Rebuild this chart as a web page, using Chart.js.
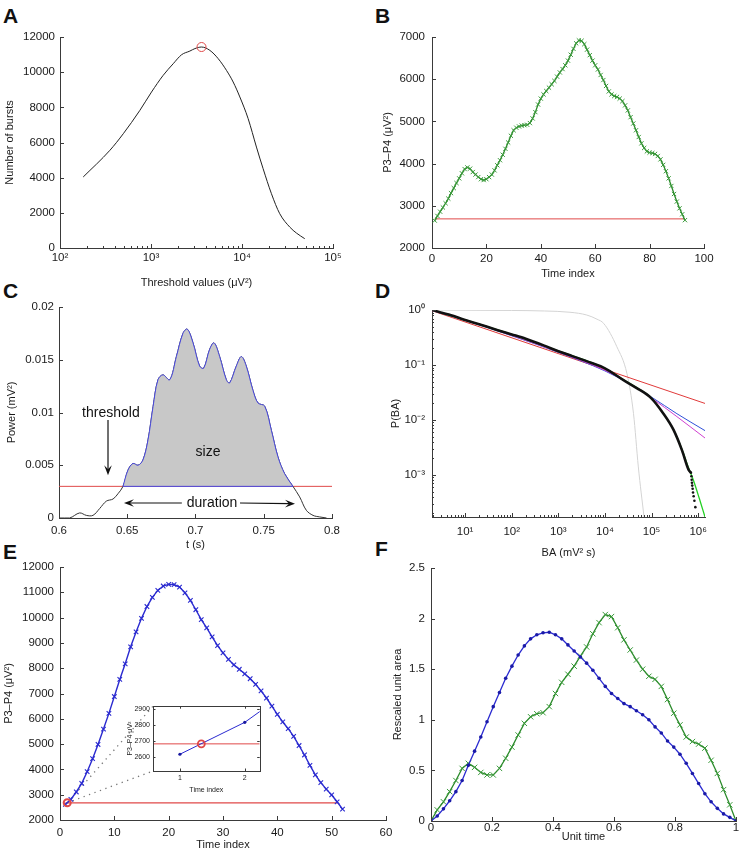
<!DOCTYPE html>
<html><head><meta charset="utf-8">
<script src="https://cdn.jsdelivr.net/npm/chart.js@4.4.1/dist/chart.umd.min.js"></script>
<style>
html,body{margin:0;padding:0;background:#fff;width:741px;height:853px;overflow:hidden;position:relative;}
canvas{position:absolute;}
.lbl{position:absolute;font:bold 21px 'Liberation Sans',Arial,Helvetica,sans-serif;line-height:21px;color:#111;}
</style></head><body>
<div class="lbl" style="left:3px;top:5px">A</div>
<div class="lbl" style="left:375px;top:5px">B</div>
<div class="lbl" style="left:3px;top:280px">C</div>
<div class="lbl" style="left:375px;top:280px">D</div>
<div class="lbl" style="left:3px;top:541px">E</div>
<div class="lbl" style="left:375px;top:538px">F</div>
<script>
// ---------------- DATA ----------------
// A: number of bursts vs threshold
const aThreshold = [180, 354, 496, 755, 1013, 1361, 1754, 2166, 2673, 3035, 3591, 4433, 5472, 6756, 7998, 9468, 11675, 14414, 17061, 21054, 25990, 33482, 39641, 48906];
const aBursts = [4040, 5560, 6500, 7830, 8870, 9820, 10480, 10990, 11200, 11340, 11430, 11240, 10770, 10100, 9440, 8590, 7360, 5740, 4510, 3090, 1950, 1190, 850, 530];
const aPeakThreshold = [3591];
const aPeakBursts = [11430];
const aThresholdTicks = [1e2, 1e3, 1e4, 1e5];
const aBurstTicks = [0, 2000, 4000, 6000, 8000, 10000, 12000];

// B: P3-P4 power of one long burst
const bPower = [2650,2760,2860,2960,3060,3170,3300,3420,3540,3650,3770,3870,3910,3880,3800,3740,3680,3630,3610,3630,3680,3740,3840,3960,4080,4210,4350,4500,4660,4790,4850,4880,4900,4910,4920,4960,5070,5220,5400,5540,5640,5720,5800,5880,5960,6060,6160,6240,6330,6440,6580,6720,6850,6920,6910,6830,6700,6570,6440,6330,6230,6100,5980,5840,5710,5640,5600,5580,5540,5480,5380,5260,5100,4950,4790,4630,4480,4370,4290,4260,4250,4230,4180,4100,3970,3820,3650,3470,3280,3100,2940,2800,2660];
const bIndex = bPower.map((_, i) => i + 1);
const bThreshold = 2690;
const bIndexTicks = [0, 20, 40, 60, 80, 100];
const bPowerTicks = [2000, 3000, 4000, 5000, 6000, 7000];

// C: power trace with one burst
const cTime = [0.6, 0.6078, 0.6151, 0.62, 0.6249, 0.6298, 0.6347, 0.6396, 0.6432, 0.6469, 0.6505, 0.6542, 0.6579, 0.6615, 0.6652, 0.6689, 0.6725, 0.6762, 0.6811, 0.686, 0.6908, 0.694, 0.6982, 0.703, 0.706, 0.7104, 0.7136, 0.7177, 0.7226, 0.725, 0.7299, 0.7336, 0.7372, 0.7421, 0.7458, 0.7507, 0.7556, 0.7604, 0.7653, 0.7714, 0.7763, 0.7812, 0.7861, 0.791, 0.796];
const cPower = [0, 0, 0.00048, 0.00025, 0.00025, 0.0009, 0.0016, 0.0018, 0.0023, 0.0030, 0.00453, 0.00517, 0.0050, 0.0055, 0.0074, 0.01055, 0.0131, 0.01357, 0.0131, 0.0153, 0.0175, 0.0179, 0.0166, 0.0144, 0.0142, 0.0160, 0.0166, 0.0153, 0.0131, 0.0128, 0.0144, 0.0153, 0.0144, 0.0121, 0.0109, 0.0106, 0.0083, 0.0058, 0.0042, 0.0030, 0.0020, 0.00073, 0.00025, 0.0001, 0];
const cThreshold = 0.003;
const cOnset = 0.6469, cOffset = 0.7714;
const cTimeTicks = [0.6, 0.65, 0.7, 0.75, 0.8];
const cPowerTicks = [0, 0.005, 0.01, 0.015, 0.02];

// D: burst-area distribution (CCDF) and fits
const dBlackBA = [2, 3, 5, 10, 20, 50, 100, 200, 500, 1000, 2000, 5000, 10000, 25000, 48000, 98000, 180000, 296000, 450000, 620000, 700000];
const dBlackP = [1.0, 0.9, 0.8, 0.66, 0.55, 0.43, 0.36, 0.30, 0.225, 0.178, 0.145, 0.11, 0.087, 0.053, 0.038, 0.025, 0.013, 0.0066, 0.0028, 0.00125, 0.0011];
const dTailBA = [700000, 715000, 725000, 735000, 745000, 760000, 775000, 800000, 830000, 870000];
const dTailP = [0.0011, 0.00095, 0.00082, 0.00072, 0.00064, 0.00056, 0.00048, 0.00041, 0.00034, 0.00026];
const dGreenBA = [1.95, 10, 100, 1000, 10000, 25000, 50000, 100000, 180000, 300000, 450000, 620000, 790000, 1050000, 1400000];
const dGreenP = [1.0, 0.66, 0.36, 0.18, 0.087, 0.054, 0.038, 0.025, 0.013, 0.0065, 0.0029, 0.00135, 0.0008, 0.00038, 0.000172];
const dRedBA = [1.95, 1400000];
const dRedP = [0.97, 0.020];
const dBlueBA = [1.95, 10, 100, 1000, 10000, 30000, 100000, 350000, 1400000];
const dBlueP = [0.98, 0.65, 0.34, 0.17, 0.078, 0.048, 0.026, 0.013, 0.0064];
const dMagentaBA = [1.95, 10, 100, 1000, 10000, 30000, 100000, 350000, 1400000];
const dMagentaP = [0.98, 0.66, 0.345, 0.172, 0.08, 0.049, 0.025, 0.0115, 0.0047];
const dGrayBA = [1.95, 10, 100, 500, 1780, 4080, 6760, 9400, 18000, 29600, 41000, 52000, 69000];
const dGrayP = [1.0, 0.99, 0.98, 0.96, 0.91, 0.81, 0.68, 0.57, 0.215, 0.07, 0.013, 0.0014, 0.00017];
const dBATicks = [10, 100, 1000, 10000, 100000, 1000000];
const dPTicks = [0.001, 0.01, 0.1, 1];

// E: P3-P4 power of one burst
const ePower = [2615, 2815, 3107, 3448, 3909, 4425, 4985, 5593, 6215, 6881, 7555, 8173, 8845, 9432, 9971, 10438, 10798, 11075, 11248, 11313, 11307, 11204, 10980, 10678, 10311, 9923, 9593, 9242, 8894, 8607, 8349, 8132, 7958, 7778, 7584, 7362, 7105, 6821, 6499, 6178, 5875, 5609, 5303, 4944, 4570, 4161, 3786, 3476, 3220, 2990, 2720, 2430];
const eIndex = ePower.map((_, i) => i + 1);
const eThreshold = 2680;
const eCrossStart = 1.33, eCrossEnd = 51.14;
const eIndexTicks = [0, 10, 20, 30, 40, 50, 60];
const ePowerTicks = [2000, 3000, 4000, 5000, 6000, 7000, 8000, 9000, 10000, 11000, 12000];
const insetIndexTicks = [1, 2];
const insetPowerTicks = [2600, 2700, 2800, 2900];

// F: rescaled unit-area shapes
const fBlueArea = [0, 0.05, 0.12, 0.20, 0.29, 0.40, 0.55, 0.69, 0.83, 0.98, 1.13, 1.27, 1.41, 1.53, 1.64, 1.73, 1.80, 1.84, 1.86, 1.865, 1.84, 1.80, 1.74, 1.68, 1.62, 1.56, 1.49, 1.41, 1.33, 1.26, 1.21, 1.16, 1.13, 1.09, 1.05, 1.00, 0.93, 0.87, 0.79, 0.73, 0.66, 0.57, 0.47, 0.37, 0.27, 0.19, 0.125, 0.07, 0.036, 0];
const fGreenArea = [0, 0.11, 0.19, 0.29, 0.40, 0.52, 0.57, 0.53, 0.48, 0.455, 0.455, 0.52, 0.62, 0.73, 0.85, 0.965, 1.03, 1.06, 1.07, 1.13, 1.26, 1.37, 1.45, 1.53, 1.63, 1.72, 1.85, 1.96, 2.04, 2.02, 1.91, 1.79, 1.69, 1.59, 1.50, 1.43, 1.40, 1.33, 1.20, 1.065, 0.95, 0.83, 0.785, 0.76, 0.72, 0.60, 0.47, 0.31, 0.16, 0];
const fUnitTime = fBlueArea.map((_, i) => i / (fBlueArea.length - 1));
const fTimeTicks = [0, 0.2, 0.4, 0.6, 0.8, 1];
const fAreaTicks = [0, 0.5, 1, 1.5, 2, 2.5];

// ---------------- HELPERS ----------------
const FONT = "'Liberation Sans', Arial, Helvetica, sans-serif";
const TXT = '#1a1a1a', AX = '#3a3a3a';
const RED = '#e04848', BLUE = '#2a2ad0', GREEN = '#2a8a2a';
Chart.defaults.font.family = FONT;
Chart.defaults.color = TXT;

const SUP = {'-':'⁻','0':'⁰','1':'¹','2':'²','3':'³','4':'⁴','5':'⁵','6':'⁶','7':'⁷','8':'⁸','9':'⁹'};
const pow10 = v => '10' + String(Math.round(Math.log10(v))).split('').map(c => SUP[c]).join('');
const num = v => String(Math.round(v * 1e6) / 1e6);
const pts = (xs, ys) => xs.map((x, i) => ({x, y: ys[i]}));

const inTicks = {
  id: 'inTicks',
  defaults: {major: 4, minor: 2, mirror: false, box: false, color: AX},
  afterDraw(chart, args, o) {
    const ctx = chart.ctx, ca = chart.chartArea;
    ctx.save();
    ctx.strokeStyle = o.color; ctx.lineWidth = 1;
    for (const s of Object.values(chart.scales)) {
      const marks = [];
      if (s.type === 'logarithmic') {
        const d0 = Math.floor(Math.log10(s.min)), d1 = Math.ceil(Math.log10(s.max));
        for (let d = d0; d <= d1; d++) for (let k = 1; k <= 9; k++) {
          const v = k * Math.pow(10, d);
          if (v >= s.min && v <= s.max) marks.push([v, k === 1]);
        }
      } else s.ticks.forEach(t => marks.push([t.value, true]));
      marks.forEach(([v, maj]) => {
        const len = maj ? o.major : o.minor;
        const p = Math.round(s.getPixelForValue(v)) + 0.5;
        ctx.beginPath();
        if (s.isHorizontal()) {
          ctx.moveTo(p, ca.bottom); ctx.lineTo(p, ca.bottom - len);
          if (o.mirror) { ctx.moveTo(p, ca.top); ctx.lineTo(p, ca.top + len); }
        } else {
          ctx.moveTo(ca.left, p); ctx.lineTo(ca.left + len, p);
          if (o.mirror) { ctx.moveTo(ca.right, p); ctx.lineTo(ca.right - len, p); }
        }
        ctx.stroke();
      });
    }
    if (o.box) {
      ctx.strokeRect(Math.round(ca.left) + 0.5, Math.round(ca.top) + 0.5, Math.round(ca.right - ca.left), Math.round(ca.bottom - ca.top));
    }
    ctx.restore();
  }
};
Chart.register(inTicks);

function axis(type, min, max, tickVals, fmt, title, o = {}) {
  return {
    type, min, max,
    afterBuildTicks: s => { s.ticks = tickVals.map(v => ({value: v})); },
    grid: {display: true, drawOnChartArea: false, drawTicks: false},
    border: {display: true, color: AX, width: 1},
    ticks: {color: TXT, font: {family: FONT, size: o.fs || 11.5}, padding: o.pad ?? 4,
            maxRotation: 0, minRotation: 0, autoSkip: false, callback: v => fmt(v)},
    title: {display: true, text: title, color: TXT, font: {family: FONT, size: o.tfs || 11}, padding: 0}
  };
}

function panel(g, config) {
  const lh = g.lh || 13.2;
  const W = Math.round(g.L - (g.yt - lh / 2));
  const H = Math.round(g.xt - g.B + lh / 2);
  const pt = g.pt ?? 20, pr = g.pr ?? 25;
  const left = g.L - W, top = g.T - pt;
  const w = W + (g.R - g.L) + pr, h = pt + (g.B - g.T) + H;
  const cv = document.createElement('canvas');
  cv.width = w; cv.height = h;
  Object.assign(cv.style, {left: left + 'px', top: top + 'px', width: w + 'px', height: h + 'px'});
  if (g.z) cv.style.zIndex = g.z;
  document.body.appendChild(cv);
  const opt = config.options;
  opt.responsive = false; opt.animation = false; opt.devicePixelRatio = 1;
  opt.layout = {padding: {top: pt, right: pr, left: 0, bottom: 0}};
  opt.plugins = Object.assign({legend: {display: false}, tooltip: {enabled: false}}, opt.plugins || {});
  opt.scales.x.afterFit = s => { s.height = H; };
  opt.scales.y.afterFit = s => { s.width = W; };
  return new Chart(cv, config);
}

function ds(data, color, o = {}) {
  return Object.assign({data, borderColor: color, backgroundColor: color, borderWidth: 1,
    pointRadius: 0, pointHoverRadius: 0, fill: false, tension: 0}, o);
}

// ---------------- A ----------------
panel({L: 60, T: 37, R: 333, B: 248, yt: 10, xt: 283}, {
  type: 'line',
  data: {datasets: [
    ds(pts(aPeakThreshold, aPeakBursts), RED, {showLine: false, pointRadius: 4.5, pointBorderWidth: 1, pointBackgroundColor: 'rgba(0,0,0,0)', order: 0}),
    ds(pts(aThreshold, aBursts), '#222', {cubicInterpolationMode: 'monotone', order: 1})
  ]},
  options: {scales: {
    x: axis('logarithmic', 100, 100000, aThresholdTicks, pow10, 'Threshold values (μV²)', {pad: 3}),
    y: axis('linear', 0, 12000, aBurstTicks, num, 'Number of bursts', {pad: 5})
  }}
});

// ---------------- B ----------------
panel({L: 432, T: 37, R: 704, B: 248, yt: 388, xt: 274}, {
  type: 'line',
  data: {datasets: [
    ds(pts(bIndex, bPower), GREEN, {borderWidth: 1.3, pointStyle: 'crossRot', pointRadius: 3, pointBorderWidth: 1, pointBorderColor: '#3a9a3a', order: 0}),
    ds(pts([bIndex[0], bIndex[bIndex.length - 1]], [bThreshold, bThreshold]), RED, {order: 1})
  ]},
  options: {scales: {
    x: axis('linear', 0, 100, bIndexTicks, num, 'Time index', {pad: 4}),
    y: axis('linear', 2000, 7000, bPowerTicks, num, 'P3–P4 (μV²)', {pad: 7})
  }}
});

// ---------------- C ----------------
const cBurstT = cTime.filter(t => t >= cOnset && t <= cOffset);
const cBurstP = cPower.filter((p, i) => cTime[i] >= cOnset && cTime[i] <= cOffset);
const cNotes = {
  id: 'cNotes',
  afterDatasetsDraw(chart) {
    const {ctx, scales: {x, y}} = chart;
    const X = v => x.getPixelForValue(v), Y = v => y.getPixelForValue(v);
    ctx.save();
    ctx.fillStyle = '#111'; ctx.strokeStyle = '#111'; ctx.lineWidth = 1.2;
    ctx.font = '14px ' + FONT; ctx.textAlign = 'center'; ctx.textBaseline = 'middle';
    ctx.fillText('threshold', X(0.638), Y(0.00995));
    ctx.fillText('size', X(0.7092), Y(0.00626));
    ctx.fillText('duration', X(0.7121), Y(0.00142));
    const arrow = (x0, y0, x1, y1) => {
      const a = Math.atan2(y1 - y0, x1 - x0), L = 10, Wd = 3.8;
      ctx.beginPath(); ctx.moveTo(x0, y0); ctx.lineTo(x1 - L * 0.6 * Math.cos(a), y1 - L * 0.6 * Math.sin(a)); ctx.stroke();
      ctx.beginPath(); ctx.moveTo(x1, y1);
      ctx.lineTo(x1 - L * Math.cos(a) + Wd * Math.sin(a), y1 - L * Math.sin(a) - Wd * Math.cos(a));
      ctx.lineTo(x1 - L * 0.6 * Math.cos(a), y1 - L * 0.6 * Math.sin(a));
      ctx.lineTo(x1 - L * Math.cos(a) - Wd * Math.sin(a), y1 - L * Math.sin(a) + Wd * Math.cos(a));
      ctx.closePath(); ctx.fill();
    };
    arrow(X(0.6359), Y(0.0093), X(0.6359), Y(0.00405));
    arrow(X(0.690), Y(0.00142), X(0.6476), Y(0.00142));
    arrow(X(0.7326), Y(0.00142), X(0.7729), Y(0.00135));
    ctx.restore();
  }
};
panel({L: 59, T: 307, R: 332, B: 518, yt: 12, xt: 545}, {
  type: 'line',
  data: {datasets: [
    ds(pts([cTime[0], cTime[cTime.length - 1] + 0.004], [cThreshold, cThreshold]), RED, {order: 5}),
    ds(pts(cTime, cPower), '#333', {tension: 0.35, order: 4}),
    ds(pts(cBurstT, cBurstP), '#4848e0', {tension: 0.35, fill: {value: cThreshold}, backgroundColor: '#c8c8c8', order: 2}),
    ds(pts([cOnset, cOffset], [cThreshold, cThreshold]), '#4848e0', {order: 1})
  ]},
  options: {
    plugins: {},
    scales: {
      x: axis('linear', 0.6, 0.8, cTimeTicks, num, 't (s)', {pad: 6}),
      y: axis('linear', 0, 0.02, cPowerTicks, num, 'Power (mV²)', {pad: 5})
    }
  },
  plugins: [cNotes]
});

// ---------------- D ----------------
panel({L: 432, T: 310, R: 705, B: 517, yt: 396, xt: 553}, {
  type: 'line',
  data: {datasets: [
    ds(pts(dGrayBA, dGrayP), '#d4d4d4', {cubicInterpolationMode: 'monotone', order: 7}),
    ds(pts(dRedBA, dRedP), '#e03a3a', {order: 6}),
    ds(pts(dBlueBA, dBlueP), '#3050d8', {cubicInterpolationMode: 'monotone', order: 5}),
    ds(pts(dMagentaBA, dMagentaP), '#d040d0', {cubicInterpolationMode: 'monotone', order: 4}),
    ds(pts(dGreenBA, dGreenP), '#22d022', {borderWidth: 1.3, cubicInterpolationMode: 'monotone', order: 3}),
    ds(pts(dBlackBA, dBlackP), '#111', {borderWidth: 2.6, cubicInterpolationMode: 'monotone', order: 2}),
    ds(pts(dTailBA, dTailP), '#111', {showLine: false, pointRadius: 1.3, pointBorderWidth: 0, pointBackgroundColor: '#111', order: 1})
  ]},
  options: {scales: {
    x: axis('logarithmic', 1.95, 1400000, dBATicks, pow10, 'BA (mV² s)', {pad: 8}),
    y: axis('logarithmic', 0.000172, 1, dPTicks, pow10, 'P(BA)', {pad: 7})
  }}
});

// ---------------- E inset ----------------
const insetChart = panel({L: 153, T: 704, R: 260, B: 771, yt: 130, xt: 790, lh: 8.4, pt: 5, pr: 5, z: 3}, {
  type: 'line',
  data: {datasets: [
    ds(pts([eCrossStart], [eThreshold]), RED, {showLine: false, pointRadius: 3.5, pointBorderWidth: 1.8, pointBackgroundColor: 'rgba(0,0,0,0)', order: 0}),
    ds(pts(eIndex.slice(0, 3), ePower.slice(0, 3)), BLUE, {pointRadius: 1.6, pointBorderWidth: 0, pointBackgroundColor: '#1818a0', order: 1}),
    ds(pts([0.585, 2.23], [eThreshold, eThreshold]), RED, {order: 2})
  ]},
  options: {
    plugins: {inTicks: {major: 2.5, minor: 1.5, mirror: true, box: true}},
    scales: {
      x: axis('linear', 0.585, 2.23, insetIndexTicks, num, 'Time index', {fs: 7, tfs: 7, pad: 3}),
      y: axis('linear', 2510, 2916, insetPowerTicks, num, 'P3–P4 μV²', {fs: 7, tfs: 7, pad: 3})
    }
  },
  plugins: [{id: 'insetBg', beforeDraw(chart) {
    const {ctx, chartArea: ca} = chart; ctx.save(); ctx.fillStyle = '#fff';
    ctx.fillRect(ca.left, ca.top, ca.right - ca.left, ca.bottom - ca.top); ctx.restore();
  }}]
});

// ---------------- E ----------------
const eConnector = {
  id: 'eConnector',
  beforeDatasetsDraw(chart) {
    const {ctx, scales: {x, y}} = chart;
    const px = x.getPixelForValue(eCrossStart), py = y.getPixelForValue(eThreshold);
    const ia = insetChart.chartArea;
    const dx = parseFloat(insetChart.canvas.style.left) - parseFloat(chart.canvas.style.left);
    const dy = parseFloat(insetChart.canvas.style.top) - parseFloat(chart.canvas.style.top);
    ctx.save(); ctx.setLineDash([1.3, 4.5]); ctx.strokeStyle = '#777'; ctx.lineWidth = 1.3;
    [[ia.left + dx, ia.top + dy], [ia.left + dx, ia.bottom + dy]].forEach(([qx, qy]) => {
      ctx.beginPath(); ctx.moveTo(px, py); ctx.lineTo(qx, qy); ctx.stroke();
    });
    ctx.restore();
  }
};
panel({L: 60, T: 567, R: 386, B: 820, yt: 9, xt: 845, z: 1}, {
  type: 'line',
  data: {datasets: [
    ds(pts([eCrossStart], [eThreshold]), RED, {showLine: false, pointRadius: 3.5, pointBorderWidth: 2, pointBackgroundColor: 'rgba(0,0,0,0)', order: 0}),
    ds(pts(eIndex, ePower), BLUE, {borderWidth: 1.4, pointStyle: 'crossRot', pointRadius: 3.2, pointBorderWidth: 1.1, order: 1}),
    ds(pts([eIndex[0], eCrossEnd], [eThreshold, eThreshold]), RED, {borderWidth: 1.2, order: 2})
  ]},
  options: {scales: {
    x: axis('linear', 0, 60, eIndexTicks, num, 'Time index', {pad: 6}),
    y: axis('linear', 2000, 12000, ePowerTicks, num, 'P3–P4 (μV²)', {pad: 6})
  }},
  plugins: [eConnector]
});

// ---------------- F ----------------
panel({L: 431, T: 568, R: 736, B: 821, yt: 398, xt: 837}, {
  type: 'line',
  data: {datasets: [
    ds(pts(fUnitTime, fBlueArea), BLUE, {borderWidth: 1.3, pointRadius: 1.8, pointBorderWidth: 0, pointBackgroundColor: '#1a1aa8', order: 1}),
    ds(pts(fUnitTime, fGreenArea), GREEN, {borderWidth: 1.3, pointStyle: 'crossRot', pointRadius: 3.8, pointBorderWidth: 1, pointBorderColor: '#3a9a3a', order: 2})
  ]},
  options: {scales: {
    x: axis('linear', 0, 1, fTimeTicks, num, 'Unit time', {pad: 0}),
    y: axis('linear', 0, 2.5, fAreaTicks, num, 'Rescaled unit area', {pad: 6})
  }}
});
</script>
</body></html>
